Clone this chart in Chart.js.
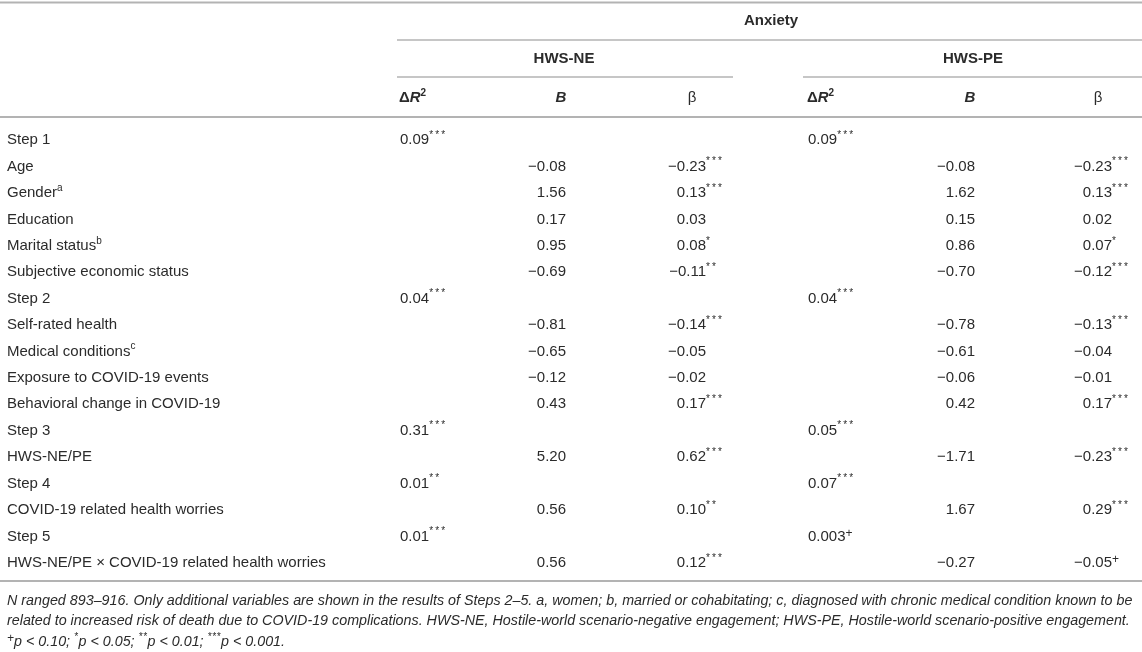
<!DOCTYPE html>
<html>
<head>
<meta charset="utf-8">
<title>Anxiety regression table</title>
<script src="https://cdn.jsdelivr.net/npm/chart.js@4.4.1/dist/chart.umd.min.js"></script>
<style>
  html, body { margin: 0; padding: 0; background: #fff; }
  #wrap { width: 1142px; height: 652px; }
</style>
</head>
<body>
<div id="wrap"><canvas id="tableChart" width="1142" height="652"></canvas></div>
<script>
/* ── Data ───────────────────────────────────────── */
const rowLabels = [
  'Step 1', 'Age', 'Gender', 'Education', 'Marital status', 'Subjective economic status',
  'Step 2', 'Self-rated health', 'Medical conditions', 'Exposure to COVID-19 events',
  'Behavioral change in COVID-19', 'Step 3', 'HWS-NE/PE', 'Step 4',
  'COVID-19 related health worries', 'Step 5', 'HWS-NE/PE × COVID-19 related health worries'
];
const rowNotes = ['', '', 'a', '', 'b', '', '', '', 'c', '', '', '', '', '', '', '', ''];

const neDeltaR2 = ['0.09***', null, null, null, null, null, '0.04***', null, null, null, null, '0.31***', null, '0.01**', null, '0.01***', null];
const neB       = [null, '−0.08', '1.56', '0.17', '0.95', '−0.69', null, '−0.81', '−0.65', '−0.12', '0.43', null, '5.20', null, '0.56', null, '0.56'];
const neBeta    = [null, '−0.23***', '0.13***', '0.03', '0.08*', '−0.11**', null, '−0.14***', '−0.05', '−0.02', '0.17***', null, '0.62***', null, '0.10**', null, '0.12***'];

const peDeltaR2 = ['0.09***', null, null, null, null, null, '0.04***', null, null, null, null, '0.05***', null, '0.07***', null, '0.003+', null];
const peB       = [null, '−0.08', '1.62', '0.15', '0.86', '−0.70', null, '−0.78', '−0.61', '−0.06', '0.42', null, '−1.71', null, '1.67', null, '−0.27'];
const peBeta    = [null, '−0.23***', '0.13***', '0.02', '0.07*', '−0.12***', null, '−0.13***', '−0.04', '−0.01', '0.17***', null, '−0.23***', null, '0.29***', null, '−0.05+'];

const outcomeTitle = 'Anxiety';
const groupNames   = ['HWS-NE', 'HWS-PE'];

const footLines = [
  'N ranged 893–916. Only additional variables are shown in the results of Steps 2–5. a, women; b, married or cohabitating; c, diagnosed with chronic medical condition known to be',
  'related to increased risk of death due to COVID-19 complications. HWS-NE, Hostile-world scenario-negative engagement; HWS-PE, Hostile-world scenario-positive engagement.'
];
const sigMarks  = ['+', '*', '**', '***'];
const sigLevels = ['p < 0.10; ', 'p < 0.05; ', 'p < 0.01; ', 'p < 0.001.'];

/* ── Layout ─────────────────────────────────────── */
const W = 1142, H = 652;
const FONT = "'Liberation Sans', Arial, Helvetica, sans-serif";
const INK = '#2b2b2b';
const RULE = '#b3b3b3';

// column anchor (x units = px) and how the number sits on it
const columns = [
  { data: neDeltaR2, x: 400,  align: 'left'  },
  { data: neB,       x: 566,  align: 'right' },
  { data: neBeta,    x: 706,  align: 'right' },
  { data: peDeltaR2, x: 808,  align: 'left'  },
  { data: peB,       x: 975,  align: 'right' },
  { data: peBeta,    x: 1112, align: 'right' }
];
const groupSpans = [[397, 733], [803, 1142]];

const body = '15px ' + FONT;
const sup  = '10px ' + FONT;
const bold = 'bold 15px ' + FONT;

/* ── Rich text helpers ──────────────────────────── */
// a run may carry `step`: fixed advance per character (spaced asterisks)
function runW(ctx, r) {
  ctx.font = r.font;
  return r.step ? r.text.length * r.step : ctx.measureText(r.text).width;
}
function drawRuns(ctx, runs, x, y) {
  let cx = x;
  runs.forEach(r => {
    ctx.font = r.font;
    if (r.step) {
      [...r.text].forEach((ch, k) => ctx.fillText(ch, cx + k * r.step, y + (r.dy || 0)));
    } else {
      ctx.fillText(r.text, cx, y + (r.dy || 0));
    }
    cx += runW(ctx, r);
  });
  return cx;
}
function runsWidth(ctx, runs) {
  return runs.reduce((w, r) => w + runW(ctx, r), 0);
}

function markRun(mark, italic) {
  const it = italic ? 'italic ' : '';
  if (mark === '+') return { text: mark, font: it + '12px ' + FONT, dy: -3 };
  return { text: mark, font: it + sup, dy: -5, step: 6 };
}

function cellRuns(str) {
  const m = str.match(/^([^*+]+)([*+]*)$/);
  const runs = [{ text: m[1], font: body }];
  if (m[2]) runs.push(markRun(m[2], false));
  return runs;
}

function hline(ctx, x1, x2, y, w) {
  ctx.save();
  ctx.strokeStyle = RULE;
  ctx.lineWidth = w;
  ctx.beginPath();
  ctx.moveTo(x1, y);
  ctx.lineTo(x2, y);
  ctx.stroke();
  ctx.restore();
}

/* ── Plugin: rules, headers, labels, cells ──────── */
const tablePlugin = {
  id: 'tablePlugin',
  beforeDraw(chart) {
    const ctx = chart.ctx;
    ctx.save();
    ctx.fillStyle = '#fff';
    ctx.fillRect(0, 0, W, H);
    ctx.restore();
  },
  afterDatasetsDraw(chart) {
    const ctx = chart.ctx;
    const xs = chart.scales.x, ys = chart.scales.y;
    ctx.save();
    ctx.fillStyle = INK;
    ctx.textBaseline = 'middle';
    ctx.textAlign = 'left';

    /* rules */
    hline(ctx, 0, W, 2.5, 2);
    hline(ctx, xs.getPixelForValue(groupSpans[0][0]), W, 40, 1.5);
    groupSpans.forEach(s => hline(ctx, xs.getPixelForValue(s[0]), xs.getPixelForValue(s[1]), 77, 1.5));
    hline(ctx, 0, W, 117, 2);
    hline(ctx, 0, W, 581, 2);

    /* header rows */
    ctx.font = bold;
    ctx.textAlign = 'center';
    ctx.fillText(outcomeTitle, xs.getPixelForValue(771), 21);
    groupNames.forEach((name, g) => {
      ctx.fillText(name, xs.getPixelForValue(columns[g * 3 + 1].x) - 2, 59);
    });
    ctx.textAlign = 'left';
    [0, 3].forEach(k => {
      const r2 = [
        { text: 'Δ', font: bold },
        { text: 'R', font: 'italic bold 15px ' + FONT },
        { text: '2', font: 'bold 10px ' + FONT, dy: -5 }
      ];
      drawRuns(ctx, r2, xs.getPixelForValue(columns[k].x) - 1, 98);
      const bRuns = [{ text: 'B', font: 'italic bold 15px ' + FONT }];
      const bx = xs.getPixelForValue(columns[k + 1].x);
      drawRuns(ctx, bRuns, bx - runsWidth(ctx, bRuns) / 2 - 5, 98);
      ctx.font = body;
      ctx.textAlign = 'center';
      ctx.fillText('β', xs.getPixelForValue(columns[k + 2].x) - 14, 98);
      ctx.textAlign = 'left';
    });

    /* row labels */
    rowLabels.forEach((lab, i) => {
      const y = ys.getPixelForValue(i);
      const runs = [{ text: lab, font: body }];
      if (rowNotes[i]) runs.push({ text: rowNotes[i], font: sup, dy: -5 });
      drawRuns(ctx, runs, 7, y);
    });

    /* cells */
    chart.data.datasets.forEach((ds, d) => {
      const meta = chart.getDatasetMeta(d);
      const col = columns[d];
      meta.data.forEach((pt, j) => {
        const runs = cellRuns(ds.data[j].label);
        const numW = runsWidth(ctx, runs.slice(0, 1));
        const x0 = col.align === 'left' ? pt.x : pt.x - numW;
        drawRuns(ctx, runs, x0, pt.y);
      });
    });

    /* footnote */
    const it = 'italic 14.3px ' + FONT;
    footLines.forEach((t, i) => drawRuns(ctx, [{ text: t, font: it }], 7, 601 + i * 20.5));
    const last = [];
    sigMarks.forEach((m, i) => {
      const r = markRun(m, true);
      if (r.step) r.step = 4.5;
      last.push(r);
      last.push({ text: sigLevels[i], font: it });
    });
    drawRuns(ctx, last, 7, 642);

    ctx.restore();
  }
};

/* ── Chart ──────────────────────────────────────── */
const datasets = columns.map(col => ({
  data: col.data
    .map((v, i) => (v == null ? null : { x: col.x, y: rowLabels[i], label: v }))
    .filter(Boolean),
  pointRadius: 0,
  pointHoverRadius: 0,
  showLine: false
}));

new Chart(document.getElementById('tableChart'), {
  type: 'scatter',
  data: { labels: rowLabels, datasets },
  options: {
    responsive: false,
    animation: false,
    events: [],
    devicePixelRatio: 1,
    layout: { padding: { top: 127, bottom: H - 576, left: 0, right: 0 } },
    plugins: { legend: { display: false }, tooltip: { enabled: false } },
    scales: {
      x: { type: 'linear', min: 0, max: W, display: false },
      y: { type: 'category', labels: rowLabels, offset: true, display: false }
    }
  },
  plugins: [tablePlugin]
});
</script>
</body>
</html>
